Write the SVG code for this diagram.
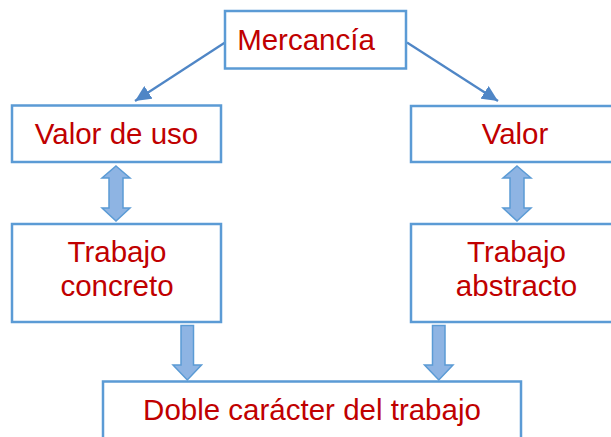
<svg xmlns="http://www.w3.org/2000/svg" width="611" height="437" viewBox="0 0 611 437">
<style>
.box{fill:#fff;stroke:#5B9BD5;stroke-width:2.5}
.lbl{font-family:"Liberation Sans",Arial,sans-serif;font-size:29.5px;fill:#C00000;text-anchor:middle}
.blk{fill:#8EB4E3;stroke:#5B9BD5;stroke-width:1.5;stroke-linejoin:miter}
.conn{stroke:#4F86C6;stroke-width:2.25;fill:none}
</style>
<defs>
<marker id="ah" markerUnits="userSpaceOnUse" markerWidth="18" markerHeight="15" refX="16" refY="7.5" orient="auto">
<path d="M0,0 L16,7.5 L0,15 Z" fill="#4F86C6"/>
</marker>
</defs>
<rect width="611" height="437" fill="#fff"/>
<g id="connectors">
<line class="conn" x1="225" y1="42.5" x2="135" y2="101" marker-end="url(#ah)"/>
<line class="conn" x1="407" y1="42.5" x2="498" y2="101" marker-end="url(#ah)"/>
<path id="dbl-left" class="blk" d="M116,166 L130,178 L123,178 L123,208 L130,208 L116,221 L102,208 L109,208 L109,178 L102,178 Z"/>
<path id="dbl-right" class="blk" d="M517,166 L531,178 L524,178 L524,208 L531,208 L517,221 L503,208 L510,208 L510,178 L503,178 Z"/>
<path id="down-left" class="blk" d="M181,325.5 L193.5,325.5 L193.5,365 L201.5,365 L187.3,380 L173,365 L181,365 Z"/>
<path id="down-right" class="blk" d="M432.5,325.5 L445,325.5 L445,365 L453,365 L438.8,380 L424.5,365 L432.5,365 Z"/>
</g>
<g id="mercancia">
<rect class="box" x="225" y="11" width="181" height="57.5"/>
<text class="lbl" x="306" y="50">Mercancía</text>
</g>
<g id="valor-de-uso">
<rect class="box" x="12" y="105.5" width="209" height="56.5"/>
<text class="lbl" x="116.5" y="144">Valor de uso</text>
</g>
<g id="valor">
<rect class="box" x="411" y="106" width="215" height="56"/>
<text class="lbl" x="515" y="143.5">Valor</text>
</g>
<g id="trabajo-concreto">
<rect class="box" x="12" y="224" width="209" height="98"/>
<text class="lbl" x="117" y="261.5">Trabajo</text>
<text class="lbl" x="117" y="296">concreto</text>
</g>
<g id="trabajo-abstracto">
<rect class="box" x="411" y="224" width="215" height="98"/>
<text class="lbl" x="516.5" y="261.5">Trabajo</text>
<text class="lbl" x="516.5" y="296">abstracto</text>
</g>
<g id="doble-caracter">
<rect class="box" x="103" y="381.5" width="418" height="70"/>
<text class="lbl" x="312" y="420">Doble carácter del trabajo</text>
</g>
</svg>
